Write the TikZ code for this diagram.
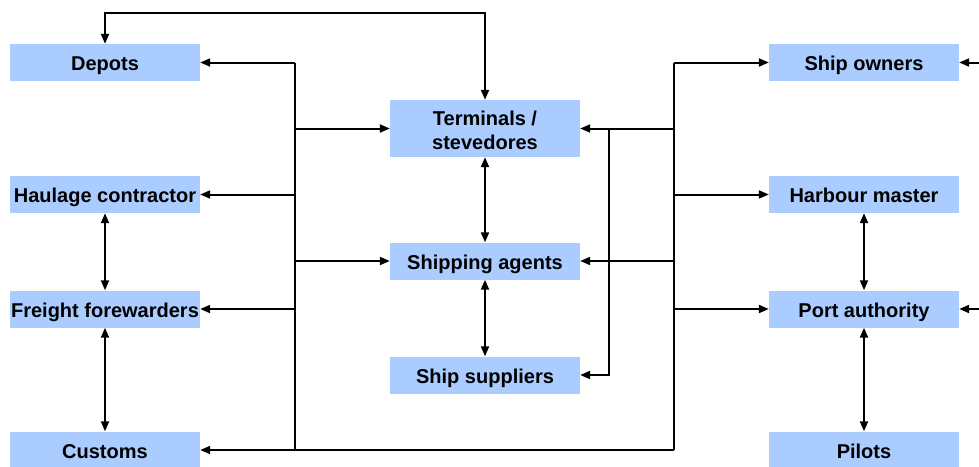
\documentclass[tikz,border=0pt]{standalone}
\usepackage{fontspec}
\setmainfont{Liberation Sans}
\usetikzlibrary{arrows.meta}
\definecolor{boxblue}{RGB}{170,204,255}
\begin{document}
\begin{tikzpicture}[x=1pt,y=-1pt,
  actor/.style={fill=boxblue,draw=none,minimum width=190pt,minimum height=37pt,
    inner sep=0pt,align=center,text height=16.5pt,text depth=0pt,
    font=\fontsize{20}{24}\selectfont\bfseries},
  link/.style={line width=2pt,line join=miter},
  arr/.style={link,-{Triangle[length=10pt,width=8pt]}},
  darr/.style={link,{Triangle[length=10pt,width=8pt]}-{Triangle[length=10pt,width=8pt]}}]
\useasboundingbox (0,0) rectangle (979,466);

% left column
\node[actor] (dep) at (105,62.5) {Depots};
\node[actor] (hau) at (105,194.5) {Haulage contractor};
\node[actor] (fre) at (105,309) {Freight forewarders};
\node[actor] (cus) at (105,450) {Customs};
% middle column
\node[actor,minimum height=57pt,text height=41pt,text depth=0pt] (ter) at (485,128.5) {Terminals /\\stevedores};
\node[actor] (sha) at (485,261) {Shipping agents};
\node[actor] (sup) at (485,375) {Ship suppliers};
% right column
\node[actor] (own) at (864,62.5) {Ship owners};
\node[actor] (har) at (864,194.5) {Harbour master};
\node[actor] (por) at (864,309) {Port authority};
\node[actor] (pil) at (864,450) {Pilots};

% bus lines
\coordinate (lbus) at (295,0);
\coordinate (rbus) at (674,0);
\coordinate (sbus) at (609,0);
\coordinate (top) at (0,13);
\coordinate (edge) at (979,0);

% left bus
\draw[link] (dep.east -| lbus) -- (cus.east -| lbus);
\draw[arr] (dep.east -| lbus) -- (dep.east);
\draw[arr] (hau.east -| lbus) -- (hau.east);
\draw[arr] (fre.east -| lbus) -- (fre.east);
\draw[arr] (ter.west -| lbus) -- (ter.west);
\draw[arr] (sha.west -| lbus) -- (sha.west);

% right bus
\draw[link] (own.west -| rbus) -- (pil.west -| rbus);
\draw[arr] (own.west -| rbus) -- (own.west);
\draw[arr] (har.west -| rbus) -- (har.west);
\draw[arr] (por.west -| rbus) -- (por.west);
\draw[arr] (ter.east -| rbus) -- (ter.east);
\draw[arr] (sha.east -| rbus) -- (sha.east);
\draw[arr] (cus.east -| rbus) -- (cus.east);

% suppliers branch
\draw[arr] (ter.east -| sbus) -- (sup.east -| sbus) -- (sup.east);

% top loop between depots and terminals
\draw[darr] (dep.north) -- (dep.north |- top) -- (ter.north |- top) -- (ter.north);

% vertical links
\draw[darr] (hau.south) -- (fre.north);
\draw[darr] (fre.south) -- (cus.north);
\draw[darr] (ter.south) -- (sha.north);
\draw[darr] (sha.south) -- (sup.north);
\draw[darr] (har.south) -- (por.north);
\draw[darr] (por.south) -- (pil.north);

% incoming links from the right edge
\draw[arr] (own.east -| edge) -- (own.east);
\draw[arr] (por.east -| edge) -- (por.east);
\end{tikzpicture}
\end{document}
